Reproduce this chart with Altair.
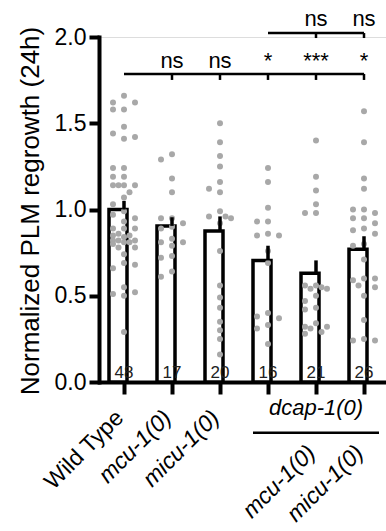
import math
import altair as alt
import pandas as pd

# ---------------- data ----------------
categories = ["Wild Type", "mcu-1(0)", "micu-1(0)", "dcap-1(0)",
              "dcap-1(0); mcu-1(0)", "dcap-1(0); micu-1(0)"]
tick_labels = ["Wild Type", "mcu-1(0)", "micu-1(0)", "", "mcu-1(0)", "micu-1(0)"]
n_labels = ["48", "17", "20", "16", "21", "26"]
means = [1.00, 0.905, 0.875, 0.705, 0.63, 0.77]
sems = [0.05, 0.05, 0.085, 0.085, 0.075, 0.075]
sig_vs_wt = ["", "ns", "ns", "*", "***", "*"]
sig_vs_dcap = ["", "", "", "", "ns", "ns"]

wt = [1.66, 1.62, 1.62, 1.58, 1.58, 1.48, 1.44, 1.41, 1.42, 1.24, 1.24, 1.19,
      1.19, 1.14, 1.14, 1.14, 1.14, 1.10, 1.07, 1.03, 0.99, 0.97, 0.95, 0.93,
      0.89, 0.89, 0.89, 0.86, 0.85, 0.85, 0.84, 0.82, 0.82, 0.82, 0.81, 0.81,
      0.80, 0.78, 0.78, 0.74, 0.69, 0.66, 0.68, 0.55, 0.51, 0.50, 0.52, 0.29]
mcu = [1.32, 1.29, 1.18, 1.10, 0.95, 0.95, 0.92, 0.90, 0.89, 0.83, 0.81, 0.81,
       0.79, 0.73, 0.72, 0.64, 0.61]
micu = [1.50, 1.39, 1.31, 1.25, 1.16, 1.12, 1.10, 0.99, 0.96, 0.95, 0.96, 0.92,
        0.76, 0.56, 0.49, 0.43, 0.35, 0.30, 0.25, 0.16]
dcap = [1.24, 1.16, 1.01, 0.93, 0.93, 0.86, 0.85, 0.85, 0.76, 0.69, 0.40, 0.38,
        0.37, 0.33, 0.31, 0.22]
dcap_mcu = [1.40, 1.19, 1.11, 1.03, 0.98, 0.98, 0.56, 0.56, 0.54, 0.54, 0.55,
            0.50, 0.47, 0.43, 0.42, 0.34, 0.32, 0.32, 0.31, 0.29, 0.28]
dcap_micu = [1.57, 1.39, 1.18, 1.12, 1.00, 1.00, 0.98, 0.95, 0.95, 0.92, 0.89,
             0.88, 0.86, 0.80, 0.79, 0.71, 0.60, 0.59, 0.60, 0.56, 0.55, 0.50,
             0.36, 0.25, 0.24, 0.24]
groups = [wt, mcu, micu, dcap, dcap_mcu, dcap_micu]

# ---------------- layout helpers ----------------
W, H = 287, 345
PX_PER_UNIT = H / 2.0
FONT = "Liberation Sans"


def swarm(vals, d=7.0):
    """simple deterministic beeswarm: horizontal pixel offsets for dots"""
    cands = [0, -11, 11, -5.5, 5.5]
    placed, offs = [], []
    for v in vals:
        yp = v * PX_PER_UNIT
        chosen, best_c, best_d = None, 0, -1
        for c in cands:
            md = min([math.hypot(c - px, yp - py) for px, py in placed], default=1e9)
            if md >= d:
                chosen = c
                break
            if md > best_d:
                best_d, best_c = md, c
        if chosen is None:
            chosen = best_c
        placed.append((chosen, yp))
        offs.append(chosen)
    return offs


bars_df = pd.DataFrame({
    "cat": categories,
    "mean": means,
    "upper": [m + s for m, s in zip(means, sems)],
    "n": n_labels,
    "sig1": sig_vs_wt,
    "sig2": sig_vs_dcap,
    "lab": tick_labels,
})

rows = []
for cat, vals in zip(categories, groups):
    for v, o in zip(vals, swarm(vals)):
        rows.append({"cat": cat, "value": v, "off": o})
dots_df = pd.DataFrame(rows)

xscale = alt.Scale(domain=categories, range=[1, 289], paddingInner=0.375, paddingOuter=0.1875)
yscale = alt.Scale(domain=[0, 2], nice=False, zero=True)

x_axis = alt.Axis(labels=False, title=None, domainWidth=4, domainColor="black",
                  tickWidth=4, tickSize=12, tickColor="black", domainCap="square",
                  grid=False)
y_axis = alt.Axis(values=[0, 0.5, 1.0, 1.5, 2.0], format=".1f", labelFontSize=23,
                  labelFont=FONT, labelColor="black", tickSize=10, tickWidth=4,
                  tickColor="black", domainWidth=4, domainColor="black",
                  domainCap="square", labelPadding=3, grid=False,
                  title="Normalized PLM regrowth (24h)", titleFontSize=26,
                  titleFont=FONT, titleFontWeight="normal", titleColor="black",
                  titleX=-61, titleY=H / 2 + 1, titleAngle=270, titleAlign="center",
                  titleBaseline="alphabetic")

X = alt.X("cat:N", sort=categories, scale=xscale, axis=x_axis)

base = alt.Chart(bars_df)

bars = base.mark_bar(fill="white", stroke="black", strokeWidth=3.5).encode(
    x=X, y=alt.Y("mean:Q", scale=yscale, axis=y_axis))

dots = alt.Chart(dots_df).mark_circle(size=36, color="#a8a8a8", opacity=1).encode(
    x=X,
    xOffset=alt.XOffset("off:Q", scale=alt.Scale(domain=[-15, 15], range=[0, 30])),
    y=alt.Y("value:Q", scale=yscale, axis=y_axis))

err = base.mark_rule(color="black", strokeWidth=3.5).encode(
    x=X, y=alt.Y("mean:Q", scale=yscale, axis=y_axis), y2="upper:Q")

ntext = base.mark_text(fontSize=17, color="#222222", baseline="alphabetic",
                       font=FONT).encode(x=X, y=alt.value(341), text="n:N")

# significance brackets
br_df = pd.DataFrame({
    "cat": ["Wild Type", "dcap-1(0); micu-1(0)", "dcap-1(0)", "dcap-1(0); micu-1(0)"],
    "y": [1.786, 1.786, 2.023, 2.023],
    "grp": ["a", "a", "b", "b"],
})
br_lines = alt.Chart(br_df).mark_line(color="black", strokeWidth=2.5).encode(
    x=X, y=alt.Y("y:Q", scale=yscale, axis=y_axis), detail="grp:N")

tk_df = pd.DataFrame({
    "cat": categories[1:] + categories[4:],
    "y1": [1.751] * 5 + [1.994] * 2,
    "y2": [1.786] * 5 + [2.023] * 2,
})
br_ticks = alt.Chart(tk_df).mark_rule(color="black", strokeWidth=2.5).encode(
    x=X, y=alt.Y("y1:Q", scale=yscale, axis=y_axis), y2="y2:Q")

sig1 = base.mark_text(fontSize=22, baseline="alphabetic", font=FONT, color="black").encode(
    x=X, y=alt.Y("s1y:Q", scale=yscale, axis=y_axis), text="sig1:N"
).transform_calculate(s1y="1.82")
sig2 = base.mark_text(fontSize=22, baseline="alphabetic", font=FONT, color="black").encode(
    x=X, y=alt.Y("s2y:Q", scale=yscale, axis=y_axis), text="sig2:N"
).transform_calculate(s2y="2.064")

# x labels
lab_wt = base.transform_filter("datum.cat == 'Wild Type'").mark_text(
    angle=315, align="right", baseline="alphabetic", fontSize=23, font=FONT,
    color="black", dx=1).encode(x=X, y=alt.value(383), text="lab:N")
lab_single = base.transform_filter(
    "datum.cat == 'mcu-1(0)' || datum.cat == 'micu-1(0)'").mark_text(
    angle=315, align="right", baseline="alphabetic", fontSize=23, font=FONT,
    fontStyle="italic", color="black", dx=1).encode(x=X, y=alt.value(383), text="lab:N")
lab_double = base.transform_filter("indexof(datum.cat, ';') > 0").mark_text(
    angle=315, align="right", baseline="alphabetic", fontSize=23, font=FONT,
    fontStyle="italic", color="black", dx=1).encode(x=X, y=alt.value(418), text="lab:N")

dcap_df = pd.DataFrame({"cat": ["dcap-1(0); mcu-1(0)"], "t": ["dcap-1(0)"]})
dcap_text = alt.Chart(dcap_df).mark_text(
    fontSize=22, font=FONT, fontStyle="italic", baseline="alphabetic",
    align="center", color="black").encode(x=X, y=alt.value(378), text="t:N")

line_df = pd.DataFrame({"a": ["dcap-1(0)"], "b": ["dcap-1(0); micu-1(0)"]})
dcap_line = alt.Chart(line_df).mark_rule(color="black", strokeWidth=2.5).encode(
    x=alt.X("a:N", sort=categories, scale=xscale, axis=x_axis, bandPosition=0),
    x2=alt.X2("b:N", bandPosition=1),
    y=alt.value(395.7))

chart = alt.layer(
    bars, dots, err, ntext, br_lines, br_ticks, sig1, sig2,
    lab_wt, lab_single, lab_double, dcap_text, dcap_line
).properties(
    width=W, height=H,
    autosize=alt.AutoSizeParams(type="none"),
    padding={"left": 99, "top": 37, "right": 0, "bottom": 149},
).configure_view(stroke=None).configure(font=FONT, background="white")

chart.save("out.html", embed_options={"renderer": "svg", "actions": False})
